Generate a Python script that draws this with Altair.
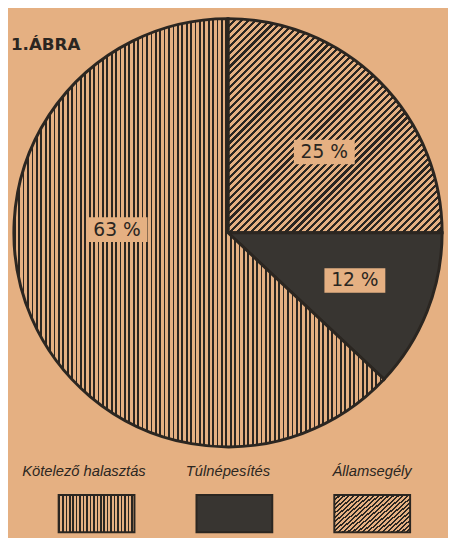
import math
import altair as alt
import pandas as pd

# ---- data ----
categories = ["Államsegély", "Túlnépesítés", "Kötelező halasztás"]
values = [25, 12, 63]
labels = ["25 %", "12 %", "63 %"]
legend_order = ["Kötelező halasztás", "Túlnépesítés", "Államsegély"]
title_text = "1.ÁBRA"

# ---- styling ----
BG = "#e5b082"
INK = "#2b2621"
DARK = "#383531"
W, H, R = 440, 446, 218

# label placement (radius in px, extra turn in degrees)
LABEL_R = {"Államsegély": 128, "Túlnépesítés": 138, "Kötelező halasztás": 113}
LABEL_TURN = {"Államsegély": 5, "Túlnépesítés": -1, "Kötelező halasztás": 25}
BOX_W, BOX_H = 62, 25


def stripes(n, line_frac, x2, y2, line=INK, gap=BG):
    stops = []
    for i in range(n):
        a = round(i / n, 5)
        b = round((i + line_frac) / n, 5)
        c = round((i + 1) / n, 5)
        stops += [
            {"offset": a, "color": line},
            {"offset": b, "color": line},
            {"offset": b, "color": gap},
            {"offset": c, "color": gap},
        ]
    return {"gradient": "linear", "x1": 0, "y1": 0, "x2": x2, "y2": y2, "stops": stops}


fills_pie = {
    "Államsegély": stripes(62, 0.45, 1, 1),
    "Túlnépesítés": DARK,
    "Kötelező halasztás": stripes(84, 0.4, 1, 0),
}
fills_leg = {
    "Államsegély": stripes(24, 0.45, 1.19, 0.656),
    "Túlnépesítés": DARK,
    "Kötelező halasztás": stripes(22, 0.45, 1, 0),
}

df = pd.DataFrame({"cat": categories, "value": values, "label": labels})

base = (
    alt.Chart(df)
    .transform_window(cum="sum(value)", frame=[None, 0])
    .transform_joinaggregate(total="sum(value)")
    .transform_calculate(
        start="(datum.cum - datum.value) / datum.total",
        end="datum.cum / datum.total",
    )
)

theta_scale = alt.Scale(domain=[0, 1], range=[0, 2 * math.pi])

layers = []
for c in categories:
    layers.append(
        base.transform_filter(alt.datum.cat == c)
        .mark_arc(outerRadius=R, fill=fills_pie[c], stroke=INK, strokeWidth=3)
        .encode(theta=alt.Theta("start:Q", scale=theta_scale), theta2="end:Q")
    )

for c in categories:
    r = LABEL_R[c]
    turn = LABEL_TURN[c]
    lab = base.transform_filter(alt.datum.cat == c).transform_calculate(
        ang=f"(datum.start + datum.end) * PI + {turn} * PI / 180"
    ).transform_calculate(
        lx=f"{W / 2} + {r} * sin(datum.ang)",
        ly=f"{H / 2} - {r} * cos(datum.ang)",
    ).transform_calculate(
        bx1=f"datum.lx - {BOX_W / 2}",
        bx2=f"datum.lx + {BOX_W / 2}",
        by1=f"datum.ly - {BOX_H / 2}",
        by2=f"datum.ly + {BOX_H / 2}",
    )
    layers.append(
        lab.mark_rect(fill=BG).encode(
            x=alt.X("bx1:Q", scale=None, axis=None),
            x2="bx2:Q",
            y=alt.Y("by1:Q", scale=None, axis=None),
            y2="by2:Q",
        )
    )
    layers.append(
        lab.mark_text(font="DejaVu Sans", fontSize=19, color=INK).encode(
            x=alt.X("lx:Q", scale=None, axis=None),
            y=alt.Y("ly:Q", scale=None, axis=None),
            text="label:N",
        )
    )

title = (
    alt.Chart(pd.DataFrame({"t": [title_text]}))
    .mark_text(
        align="left",
        baseline="alphabetic",
        font="DejaVu Sans",
        fontSize=17,
        fontWeight="bold",
        color=INK,
    )
    .encode(x=alt.value(-1), y=alt.value(37), text="t:N")
)
layers.append(title)

pie = alt.layer(*layers).properties(width=W, height=H)

leg_df = pd.DataFrame({"cat": legend_order})
text_scale = alt.Scale(domain=legend_order, paddingInner=0.47, paddingOuter=0.235)
sw_scale = alt.Scale(domain=legend_order, range=[16, 437], paddingInner=0.45, paddingOuter=0.225)

leg_text = (
    alt.Chart(leg_df)
    .mark_text(font="Liberation Sans", fontStyle="italic", fontSize=15, color=INK)
    .encode(
        x=alt.X("cat:N", scale=text_scale, axis=None, sort=legend_order),
        y=alt.value(19),
        text="cat:N",
    )
    .properties(width=W, height=42)
)

sw_layers = []
for c in legend_order:
    sw_layers.append(
        alt.Chart(leg_df)
        .transform_filter(alt.datum.cat == c)
        .mark_rect(fill=fills_leg[c], stroke=INK, strokeWidth=2)
        .encode(x=alt.X("cat:N", scale=sw_scale, axis=None, sort=legend_order))
    )
leg_sw = alt.layer(*sw_layers).properties(width=W, height=38)

chart = (
    alt.vconcat(pie, leg_text, leg_sw, spacing=0)
    .resolve_scale(x="independent")
    .properties(padding=0, background=BG)
    .configure_view(stroke=None)
    .configure_concat(spacing=0)
)

chart.save("out.html", embed_options={"renderer": "svg", "actions": False})
